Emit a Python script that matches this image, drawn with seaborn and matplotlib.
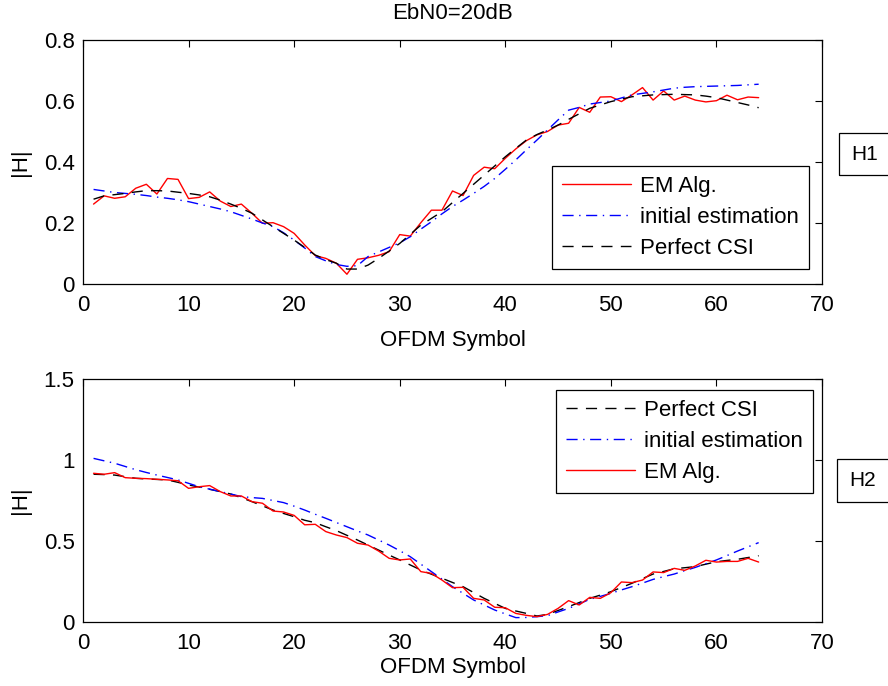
import numpy as np
import pandas as pd
import seaborn as sns
import matplotlib
matplotlib.use("Agg")
import matplotlib.pyplot as plt
from matplotlib.patches import Rectangle
from matplotlib.ticker import FormatStrFormatter, MultipleLocator

# OFDM symbol index
symbols = list(range(1, 65))

# |H1| estimates
em_h1 = [0.262, 0.289, 0.281, 0.286, 0.314, 0.327, 0.295, 0.346, 0.343, 0.280,
         0.284, 0.302, 0.272, 0.254, 0.262, 0.232, 0.199, 0.201, 0.188, 0.166,
         0.128, 0.093, 0.084, 0.068, 0.032, 0.081, 0.086, 0.094, 0.106, 0.162,
         0.157, 0.201, 0.242, 0.242, 0.305, 0.290, 0.356, 0.383, 0.378, 0.412,
         0.443, 0.470, 0.489, 0.500, 0.521, 0.527, 0.579, 0.563, 0.613, 0.614,
         0.598, 0.620, 0.644, 0.603, 0.633, 0.603, 0.616, 0.603, 0.597, 0.601,
         0.619, 0.604, 0.613, 0.611]
init_h1 = [0.310, 0.305, 0.300, 0.297, 0.294, 0.290, 0.285, 0.281, 0.276, 0.270,
           0.262, 0.254, 0.246, 0.237, 0.225, 0.213, 0.200, 0.188, 0.168, 0.144,
           0.118, 0.090, 0.076, 0.064, 0.058, 0.060, 0.090, 0.105, 0.120, 0.135,
           0.155, 0.180, 0.204, 0.230, 0.254, 0.275, 0.297, 0.320, 0.346, 0.376,
           0.407, 0.440, 0.472, 0.505, 0.538, 0.570, 0.579, 0.590, 0.595, 0.600,
           0.610, 0.620, 0.625, 0.630, 0.636, 0.642, 0.645, 0.647, 0.648, 0.649,
           0.650, 0.651, 0.653, 0.655]
perfect_h1 = [0.278, 0.289, 0.293, 0.297, 0.302, 0.306, 0.306, 0.305, 0.301, 0.297,
              0.292, 0.286, 0.275, 0.262, 0.248, 0.232, 0.210, 0.188, 0.166, 0.144,
              0.120, 0.095, 0.080, 0.068, 0.049, 0.049, 0.062, 0.084, 0.108, 0.133,
              0.163, 0.193, 0.215, 0.237, 0.267, 0.297, 0.327, 0.357, 0.387, 0.417,
              0.445, 0.472, 0.490, 0.505, 0.521, 0.540, 0.558, 0.576, 0.587, 0.598,
              0.606, 0.614, 0.617, 0.620, 0.621, 0.622, 0.621, 0.620, 0.616, 0.611,
              0.603, 0.595, 0.587, 0.578]

# |H2| estimates
em_h2 = [0.918, 0.912, 0.922, 0.891, 0.887, 0.885, 0.881, 0.877, 0.872, 0.825,
         0.835, 0.842, 0.805, 0.778, 0.778, 0.743, 0.733, 0.685, 0.679, 0.658,
         0.600, 0.603, 0.558, 0.537, 0.521, 0.486, 0.475, 0.438, 0.393, 0.383,
         0.389, 0.311, 0.300, 0.259, 0.212, 0.214, 0.146, 0.136, 0.091, 0.088,
         0.053, 0.041, 0.033, 0.047, 0.084, 0.132, 0.105, 0.152, 0.146, 0.181,
         0.247, 0.243, 0.259, 0.309, 0.305, 0.331, 0.319, 0.346, 0.381, 0.370,
         0.374, 0.374, 0.393, 0.370]
init_h2 = [1.010, 0.995, 0.980, 0.960, 0.940, 0.923, 0.907, 0.892, 0.877, 0.856,
           0.835, 0.820, 0.805, 0.790, 0.774, 0.768, 0.763, 0.750, 0.737, 0.715,
           0.691, 0.665, 0.640, 0.614, 0.588, 0.562, 0.537, 0.506, 0.475, 0.440,
           0.403, 0.357, 0.311, 0.265, 0.218, 0.177, 0.136, 0.105, 0.074, 0.050,
           0.027, 0.028, 0.033, 0.039, 0.062, 0.084, 0.112, 0.140, 0.158, 0.177,
           0.198, 0.218, 0.240, 0.263, 0.280, 0.296, 0.317, 0.337, 0.360, 0.383,
           0.410, 0.438, 0.464, 0.490]
perfect_h2 = [0.912, 0.910, 0.907, 0.897, 0.887, 0.883, 0.880, 0.877, 0.862, 0.846,
              0.833, 0.819, 0.805, 0.790, 0.767, 0.743, 0.717, 0.691, 0.670, 0.650,
              0.628, 0.613, 0.588, 0.564, 0.535, 0.506, 0.475, 0.444, 0.413, 0.383,
              0.352, 0.321, 0.295, 0.270, 0.244, 0.218, 0.182, 0.146, 0.115, 0.084,
              0.068, 0.053, 0.037, 0.047, 0.071, 0.095, 0.120, 0.146, 0.166, 0.187,
              0.213, 0.239, 0.268, 0.296, 0.312, 0.329, 0.335, 0.342, 0.357, 0.372,
              0.380, 0.387, 0.398, 0.409]

sns.set_style("white")
plt.rcParams["font.family"] = ["Liberation Sans", "DejaVu Sans"]
plt.rcParams["font.size"] = 16
plt.rcParams["text.color"] = "black"
plt.rcParams["axes.labelcolor"] = "black"
plt.rcParams["xtick.color"] = "black"
plt.rcParams["ytick.color"] = "black"

FIG_W, FIG_H = 888, 686
fig = plt.figure(figsize=(FIG_W / 100, FIG_H / 100), dpi=100)


def px_axes(left, top, right, bottom):
    return fig.add_axes([left / FIG_W, 1 - bottom / FIG_H,
                         (right - left) / FIG_W, (bottom - top) / FIG_H])


ax1 = px_axes(83, 40, 822, 284)
ax2 = px_axes(83, 379, 822, 622)

styles = {
    "EM Alg.": dict(color=(1, 0, 0), linestyle="-"),
    "initial estimation": dict(color=(0, 0, 1), linestyle=(0, (8, 4, 1, 4))),
    "Perfect CSI": dict(color="black", linestyle=(0, (8, 6))),
}

series1 = [("EM Alg.", em_h1), ("initial estimation", init_h1), ("Perfect CSI", perfect_h1)]
series2 = [("Perfect CSI", perfect_h2), ("initial estimation", init_h2), ("EM Alg.", em_h2)]

for ax, series in ((ax1, series1), (ax2, series2)):
    for name, vals in series:
        df = pd.DataFrame({"symbol": symbols, "H": vals})
        sns.lineplot(data=df, x="symbol", y="H", ax=ax, label=name,
                     linewidth=1.0, **styles[name])

for ax in (ax1, ax2):
    ax.set_xlim(0, 70)
    ax.xaxis.set_major_locator(MultipleLocator(10))
    ax.yaxis.set_major_formatter(FormatStrFormatter("%g"))
    ax.tick_params(direction="in", length=5, width=0.8, top=True, right=True,
                   labelsize=16, colors="black")
    ax.tick_params(axis="x", pad=8)
    ax.tick_params(axis="y", pad=6)
    for sp in ax.spines.values():
        sp.set_visible(True)
        sp.set_color("black")
        sp.set_linewidth(0.9)
    ax.set_ylabel("|H|", fontsize=16, labelpad=9, color="black")

ax1.set_xlabel("OFDM Symbol", fontsize=16, labelpad=10, color="black")
ax2.set_xlabel("OFDM Symbol", fontsize=16, labelpad=2, color="black")

ax1.set_ylim(0, 0.8)
ax1.yaxis.set_major_locator(MultipleLocator(0.2))
ax2.set_ylim(0, 1.5)
ax2.yaxis.set_major_locator(MultipleLocator(0.5))

ax1.set_title("EbN0=20dB", fontsize=16, pad=15, color="black")

leg_kw = dict(fontsize=16, frameon=True, fancybox=False, framealpha=1,
              edgecolor="black", handlelength=3.1, handletextpad=0.4,
              labelspacing=0.45, borderpad=0.45, borderaxespad=0)
leg1 = ax1.legend(loc="lower right", bbox_to_anchor=(0.982, 0.061), **leg_kw)
leg2 = ax2.legend(loc="upper right", bbox_to_anchor=(0.988, 0.955), **leg_kw)
for leg in (leg1, leg2):
    leg.get_frame().set_linewidth(0.9)
    for t in leg.get_texts():
        t.set_color("black")

# Annotation boxes on the right edge
for label, (x0, y0, y1) in {"H1": (839, 133, 175), "H2": (837, 459, 502)}.items():
    fig.patches.append(Rectangle((x0 / FIG_W, 1 - y1 / FIG_H), (FIG_W + 20 - x0) / FIG_W,
                                 (y1 - y0) / FIG_H, transform=fig.transFigure,
                                 fill=False, edgecolor="black", linewidth=0.9))
    fig.text((x0 + 12) / FIG_W, 1 - (y0 + y1) / 2 / FIG_H, label, fontsize=15,
             va="center", ha="left", color="black")

fig.savefig("out.png", dpi=100)
